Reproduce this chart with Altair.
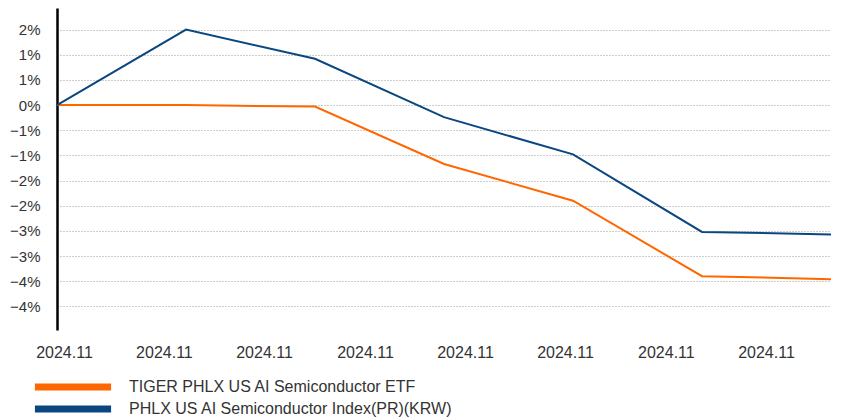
import altair as alt
import pandas as pd

# ---- data ----
steps = [0, 1, 2, 3, 4, 5, 6]
etf = [0.0, 0.0, -0.03, -1.17, -1.90, -3.40, -3.46]
index_ = [0.0, 1.50, 0.92, -0.24, -0.98, -2.52, -2.57]
series_names = ["TIGER PHLX US AI Semiconductor ETF",
                "PHLX US AI Semiconductor Index(PR)(KRW)"]
series_colors = ["#FF6600", "#0A4780"]
y_ticks = [-4.0, -3.5, -3.0, -2.5, -2.0, -1.5, -1.0, -0.5, 0.0, 0.5, 1.0, 1.5]
x_ticks = [0.054, 0.829, 1.605, 2.388, 3.163, 3.938, 4.72, 5.496]
x_label = "2024.11"

rows = []
for name, vals in zip(series_names, [etf, index_]):
    for s, v in zip(steps, vals):
        rows.append({"step": s, "value": v, "series": name})
df = pd.DataFrame(rows)

FONT = "Liberation Sans"

chart = alt.Chart(df).mark_line(strokeWidth=2).encode(
    x=alt.X("step:Q",
            scale=alt.Scale(domain=[0, 6], nice=False, zero=False),
            axis=alt.Axis(values=x_ticks, labelExpr=f"'{x_label}'", title=None,
                          domain=False, ticks=False, grid=False,
                          labelPadding=14, labelFontSize=16, labelColor="#333333",
                          labelFont=FONT, labelFlush=False, labelOverlap=False)),
    y=alt.Y("value:Q",
            scale=alt.Scale(domain=[-4.47, 1.93], nice=False, zero=False),
            axis=alt.Axis(values=y_ticks,
                          labelExpr="(datum.value < 0 ? '−' : '') + round(abs(datum.value)) + '%'",
                          title=None, domain=True, domainColor="#000000", domainWidth=2.5,
                          ticks=False, grid=True, gridColor="#9a9a9a", gridDash=[1, 2],
                          gridWidth=1, labelPadding=17, labelFontSize=15,
                          labelColor="#333333", labelFont=FONT,
                          minExtent=49, maxExtent=49)),
    color=alt.Color("series:N",
                    scale=alt.Scale(domain=series_names, range=series_colors),
                    sort=series_names,
                    legend=alt.Legend(title=None, orient="none", legendX=8, legendY=371,
                                      direction="vertical",
                                      symbolType="M-10,0L10,0",
                                      symbolSize=58, symbolStrokeWidth=7,
                                      labelFontSize=16, labelFont=FONT,
                                      labelColor="#333333", labelOffset=48,
                                      labelLimit=500, rowPadding=-11, padding=0)),
).properties(
    width=774, height=322,
    autosize=alt.AutoSizeParams(type="none"),
    padding={"left": 49, "top": 0, "right": 3, "bottom": 89},
    background="white",
).configure_view(stroke=None)

chart.save("out.html", embed_options={"renderer": "svg", "actions": False})
